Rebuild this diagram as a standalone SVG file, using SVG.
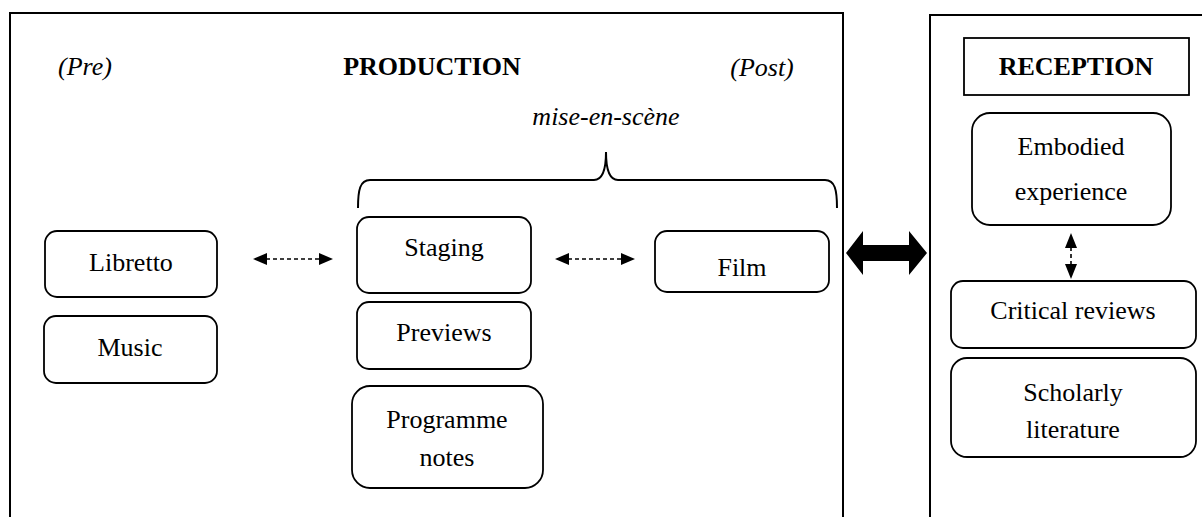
<svg xmlns="http://www.w3.org/2000/svg" width="1202" height="517" viewBox="0 0 1202 517">
  <defs>
    <style>
      .frame { fill: none; stroke: #000; stroke-width: 2; }
      .node { fill: #fff; stroke: #000; stroke-width: 1.8; }
      .t { font-family: "Liberation Serif", "Times New Roman", serif; font-size: 26px; fill: #000; text-anchor: middle; }
      .it { font-style: italic; }
      .b { font-weight: bold; }
      .dash { fill: none; stroke: #000; stroke-width: 1.6; stroke-dasharray: 4 3; }
      .head { fill: #000; }
    </style>
  </defs>
  <rect width="1202" height="517" fill="#fff"/>

  <!-- Production panel -->
  <g id="production">
    <path class="frame" d="M10,517 V13 H843 V517"/>
    <text class="t it" x="85" y="75">(Pre)</text>
    <text class="t b" x="432" y="75">PRODUCTION</text>
    <text class="t it" x="762" y="76">(Post)</text>
    <text class="t it" x="606" y="125">mise-en-scène</text>
    <path class="frame" d="M358,208 C358,190 360,180 370,180 L594,180 C602,180 606,172 606,152 C606,172 610,180 618,180 L825,180 C835,180 837,190 837,208"/>
  </g>

  <!-- Reception panel -->
  <g id="reception">
    <path class="frame" d="M930,517 V15 H1202"/>
    <rect class="node" x="964" y="38" width="225" height="57"/>
    <text class="t b" x="1076" y="75">RECEPTION</text>
  </g>

  <g id="libretto">
    <rect class="node" x="45" y="231" width="172" height="66" rx="12"/>
    <text class="t" x="131" y="271">Libretto</text>
  </g>
  <g id="music">
    <rect class="node" x="44" y="316" width="173" height="67" rx="12"/>
    <text class="t" x="130" y="356">Music</text>
  </g>
  <g id="staging">
    <rect class="node" x="357" y="217" width="174" height="76" rx="12"/>
    <text class="t" x="444" y="256">Staging</text>
  </g>
  <g id="previews">
    <rect class="node" x="357" y="302" width="174" height="67" rx="12"/>
    <text class="t" x="444" y="341">Previews</text>
  </g>
  <g id="programme-notes">
    <rect class="node" x="352" y="386" width="191" height="102" rx="18"/>
    <text class="t" x="447" y="428">Programme</text>
    <text class="t" x="447" y="466">notes</text>
  </g>
  <g id="film">
    <rect class="node" x="655" y="231" width="174" height="61" rx="12"/>
    <text class="t" x="742" y="276">Film</text>
  </g>
  <g id="embodied-experience">
    <rect class="node" x="972" y="113" width="199" height="112" rx="18"/>
    <text class="t" x="1071" y="155">Embodied</text>
    <text class="t" x="1071" y="200">experience</text>
  </g>
  <g id="critical-reviews">
    <rect class="node" x="951" y="281" width="245" height="67" rx="12"/>
    <text class="t" x="1073" y="319">Critical reviews</text>
  </g>
  <g id="scholarly-literature">
    <rect class="node" x="951" y="358" width="245" height="99" rx="16"/>
    <text class="t" x="1073" y="401">Scholarly</text>
    <text class="t" x="1073" y="438">literature</text>
  </g>

  <!-- Connectors -->
  <g id="connectors">
    <!-- Libretto <-> Staging -->
    <line class="dash" x1="266" y1="259" x2="320" y2="259"/>
    <polygon class="head" points="253,259 267,253 267,265"/>
    <polygon class="head" points="333,259 319,253 319,265"/>
    <!-- Staging <-> Film -->
    <line class="dash" x1="568" y1="259" x2="622" y2="259"/>
    <polygon class="head" points="555,259 569,253 569,265"/>
    <polygon class="head" points="635,259 621,253 621,265"/>
    <!-- Embodied experience <-> Critical reviews -->
    <line class="dash" x1="1071" y1="247" x2="1071" y2="266"/>
    <polygon class="head" points="1071,233 1065,248 1077,248"/>
    <polygon class="head" points="1071,279 1065,264 1077,264"/>
    <!-- Production <-> Reception -->
    <polygon class="head" points="846,253 863,231 863,245 909,245 909,231 927,253 909,275 909,261 863,261 863,275"/>
  </g>
</svg>
